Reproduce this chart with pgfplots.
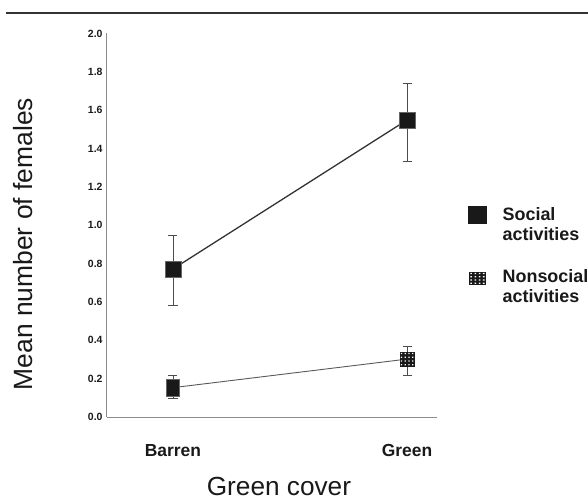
\documentclass[border=0pt]{standalone}
\usepackage{pgfplots}
\pgfplotsset{compat=1.18}
\usepackage{fontspec}
\setmainfont{Liberation Sans}
\pgfdeclareplotmark{gridsq}{%
  \pgfpathrectangle{\pgfpoint{-\the\pgfplotmarksize}{-\the\pgfplotmarksize}}{\pgfpoint{2\pgfplotmarksize}{2\pgfplotmarksize}}%
  \pgfusepath{fill}%
  \pgfsetfillcolor{white}%
  \foreach \i in {-3,-1,1,3}{\foreach \j in {-3,-1,1,3}{%
    \pgfpathrectangle{\pgfpoint{\i*0.25*\the\pgfplotmarksize-0.6bp}{\j*0.25*\the\pgfplotmarksize-0.6bp}}{\pgfpoint{1.2bp}{1.2bp}}%
  }}%
  \pgfusepath{fill}%
}
\begin{document}
\begin{tikzpicture}
\useasboundingbox (-107bp,-82bp) rectangle (481bp,417bp);
\draw[line width=1.5bp, black!80] (-101bp,404bp) -- (481bp,404bp);
\begin{axis}[
  scale only axis, width=330bp, height=383.5bp,
  xmin=-0.282, xmax=1.128, ymin=0, ymax=2.0,
  axis lines*=left,
  axis line style={black!45, line width=1bp},
  major tick length=0pt,
  xtick={0,1}, xticklabels={Barren,Green},
  ytick={0,0.2,...,2.0},
  /pgf/number format/assume math mode=true,
  /pgf/number format/fixed, /pgf/number format/fixed zerofill, /pgf/number format/precision=1,
  yticklabel style={font=\fontsize{10.5}{12}\selectfont\bfseries, text=black!90, xshift=-1bp},
  xticklabel style={font=\fontsize{17.5}{20}\selectfont\bfseries, text=black!90, anchor=base, yshift=-39bp},
  xlabel={Green cover},
  ylabel={Mean number of females},
  xlabel style={font=\fontsize{26.3}{30}\selectfont, text=black!90, at={(axis description cs:0.521,-0.2034)}, anchor=base},
  ylabel style={font=\fontsize{26.5}{30}\selectfont, text=black!90, at={(axis description cs:-0.2545,0.451)}, anchor=center},
  clip=false,
  legend style={at={(axis description cs:1.085,0.555)}, anchor=north west, draw=none, fill=none,
    font=\fontsize{18}{20}\selectfont\bfseries, text=black!90, row sep=26bp, column sep=15bp,
    nodes={align=left, inner sep=1bp}},
  legend cell align=left,
  error bars/y dir=both, error bars/y explicit,
  error bars/error bar style={line width=0.9bp, black!70},
  error bars/error mark options={line width=0.9bp, mark size=4.5bp, black!70, rotate=90},
]
% legend entries
\addlegendimage{legend image code/.code={\fill[black!90] (0bp,1bp) rectangle (18bp,18bp);}}
\addlegendentry{Social\\activities}
\addlegendimage{legend image code/.code={\draw[mark=gridsq, mark size=6.5bp, mark options={xscale=1.3}, fill=black!90, draw=none] plot coordinates {(9bp,8.5bp)};}}
\addlegendentry{Nonsocial\\activities}
% social
\addplot[black!80, line width=1.3bp, mark=square*, mark size=8bp,
  mark options={fill=black!90, draw=black!60, line width=0.4bp}]
  table[x=x, y=y, y error plus=ep, y error minus=em] {
x y ep em
0 0.772 0.177 0.188
1 1.549 0.191 0.214
};
% nonsocial line
\addplot[black!65, line width=0.9bp, mark=none]
  table[x=x, y=y, y error plus=ep, y error minus=em] {
x y ep em
0 0.153 0.066 0.054
1 0.302 0.065 0.083
};
\addplot[only marks, mark=square*, mark size=7.5bp, mark options={xscale=0.85, yscale=1.15, fill=black!90, draw=black!60, line width=0.4bp}]
  coordinates {(0,0.153)};
\addplot[only marks, mark=gridsq, mark size=7.5bp, mark options={fill=black!90, draw=none}]
  coordinates {(1,0.302)};
\end{axis}
\end{tikzpicture}
\end{document}
